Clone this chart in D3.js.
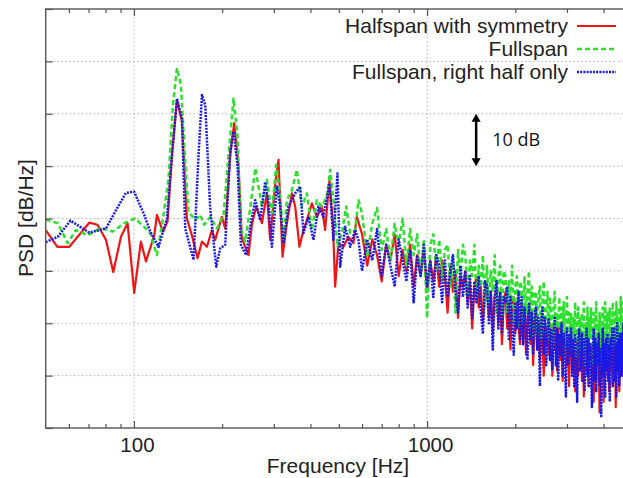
<!DOCTYPE html>
<html>
<head>
<meta charset="utf-8">
<title>PSD spectrum</title>
<script src="https://cdnjs.cloudflare.com/ajax/libs/d3/7.8.5/d3.min.js"></script>
<style>
body { margin: 0; background: #fff; }
svg { display: block; font-family: "Liberation Sans", Arial, sans-serif; }
</style>
</head>
<body>
<div id="chart"></div>
<script>

// legend / series
var seriesNames  = ["Halfspan with symmetry", "Fullspan", "Fullspan, right half only"];
var seriesColors = ["#f01414", "#2ee02e", "#1818e8"];
var seriesDash   = [null, "5,3", "2,1.2"];

// axis ticks
var xMajorTicks = [100, 1000];
var xMinorTicks = [60, 70, 80, 90, 200, 300, 400, 500, 600, 700, 800, 900, 2000, 3000, 4000];
var yTicks = [0, 10, 20, 30, 40, 50, 60, 70, 80];

// low frequency part, [Hz, dB]
var redLow = [[50,37.8],[54.8,34.6],[60.2,34.6],[70.4,39.2],[75.1,38.8],[80.3,35.9],[85,29.8],[90.3,36.5],
  [95.1,39.1],[100.2,25.8],[105.6,35.6],[109.9,31.8],[117.3,36.8],[119.8,40.7],[125.6,37.5],[130.2,39.4],
  [134.8,52.1],[140.2,62.6],[145.8,58.5],[151.6,40],[157.6,36.8],[164.8,32.4],[170.6,35.6],[177.4,34.6],
  [184.5,37.8],[189.3,35.9],[199.5,40.3],[204.8,38.1],[213,52.1],[219.8,58.2],[227.3,50.2],[233.4,36.2],
  [245.9,33],[252.5,38.8],[261.2,42.3],[273.2,39.1],[284.1,44.8],[291.5,35.9],[303.3,46.7],[311.2,51.2],
  [321.2,32.7],[332.4,39.1],[345.7,44.8],[354.8,42.3],[366.9,34.6],[378.7,37.8],[388.9,39.7],[404.5,42.9],
  [420.6,40.3],[437.5,42.3],[448.9,37.8],[464.4,47.4],[477,39.1],[485.7,27],[498.5,35.3],[518.4,34.6],
  [539.2,36.5],[560.7,35.3],[575.8,40.3]];

var greenLow = [[50,39.8],[55,39.1],[59.4,35.3],[63.4,37.8],[69.5,36.8],[77.2,38.2],[84.5,37.5],[92.7,39.1],
  [100.8,40],[108.4,38.4],[113.6,37.2],[119.8,33],[126.2,40.7],[131.2,47.7],[135.8,61.7],[140.2,68.7],
  [144.6,65.5],[149.6,50.8],[153.5,41.3],[161.8,39.7],[168.3,40.7],[173.7,38.8],[182,40.3],[191.9,38.1],
  [202.1,40.7],[210.2,52.1],[218.6,62.9],[225.5,55.9],[231.6,38.1],[239.6,35.6],[249.2,42],[259.5,49.6],
  [273.2,42.3],[284.1,47.4],[295.5,41],[305.7,50.2],[315.4,44.2],[323.7,35.9],[332.4,43.5],[345.7,45.4],
  [359.6,49.3],[374,42.3],[388.9,44.8],[404.5,37.8],[420.6,43.5],[437.5,42.3],[455,44.2],[467,49.3],
  [481.9,42.3],[494.6,34.6],[512,37.2],[529.5,42.3],[546.4,37.2],[568.2,37.8],[583.2,43.5]];

var blueLow = [[50,35.5],[55,36.5],[60.7,39.6],[70.4,37.3],[80.3,38.1],[85.7,41],[93.9,44.9],[100.2,45.1],
  [108.4,40.7],[113.6,37.5],[121.3,34.6],[129.6,40],[134.8,52.1],[140.2,62.9],[145.8,59.1],[149.6,38.1],
  [159.7,32.1],[166.1,52.1],[170.6,63.6],[175.1,61.7],[182,41.9],[190.8,30.8],[196.9,34.3],[204.8,35],
  [213,52.8],[218.6,56.6],[225.5,50.2],[231.6,35],[241.5,33],[249.2,38.4],[259.1,43.5],[269.5,39.7],
  [280.3,47],[287.7,42.9],[295.5,34.6],[307.4,46.1],[315.4,42.3],[323.7,35.3],[336.6,42.3],[354.8,44.8],
  [369,46.1],[378.7,37.2],[393.8,40.3],[409.6,35.9],[426,42.3],[443,40.3],[464.4,46.7],[479.2,35.9],
  [494.6,48.6],[505.2,30.8],[525.4,38.4],[546.4,34.6],[568.2,37.8],[583.2,35.9]];

// high frequency part: spectrum bins every 25 Hz, dB values read per bin
var hiFreq = d3.range(600, 4825, 25);

var redHigh = [37,31,36,33,28,35,32,37,29,34,
  30,35,27,33,29,34,26,32,28,33,
  27,32,29,22,31,26,30,21,29,27,
  30,24,28,19,27,29,23,27,20,26,
  28,21,26,18,25,27,20,26,16,24,
  26,19,24,15,23,25,18,24,20,16,
  24,17,22,14,21,23,16,22,12,20,
  22,15,20,13,21,17,10,20,16,19,
  14,20,16,10,19,15,18,11,17,20,
  13,18,9,17,14,19,12,16,8,17,
  18,11,16,13,7,15,17,10,16,13,
  16,9,15,6,14,17,11,15,8,16,
  13,16,10,15,5,14,17,9,15,12,
  16,3,13,17,10,15,5,14,16,11,
  15,10,17,7,14,16,11,15,8,17,
  13,17,4,15,11,16,13,7,15,18,
  14,10,17,13,18,9,15,17,12];

var greenHigh = [41,33,39,42,34,38,32,39,35,40,
  31,38,33,37,29,36,21,35,37,30,
  36,28,34,35,27,33,22,34,29,35,
  33,25,32,29,35,24,31,27,33,23,
  31,24,30,26,33,22,29,31,21,30,
  29,22,28,24,31,20,27,29,19,28,
  27,20,29,22,26,30,19,27,17,26,
  26,18,25,27,17,24,28,18,23,26,
  17,25,21,15,24,26,16,22,19,25,
  16,23,18,24,14,21,25,15,22,18,
  22,14,21,17,24,13,20,23,15,21,
  13,22,18,24,12,20,16,23,14,21,
  17,23,12,20,22,14,19,24,13,20,
  16,22,18,12,21,23,15,19,24,13,
  20,22,14,18,23,12,21,17,24,15,
  19,22,13,24,18,21,14,23,20,25,
  16,21,24,14,22,19,25,17,22];

var blueHigh = [30,36,32,38,29,35,31,27,36,32,
  28,34,24,33,29,35,27,32,25,33,
  31,24,32,25,30,33,26,22,31,25,
  30,23,29,21,28,24,29,22,18,28,
  27,20,26,15,25,28,19,26,18,25,
  24,27,17,25,20,14,24,19,26,17,
  25,16,23,19,13,24,17,22,14,21,
  23,15,21,8,20,23,14,21,12,19,
  21,13,19,11,18,21,12,19,9,18,
  14,20,10,18,13,6,19,12,18,14,
  19,10,17,8,18,13,5,16,19,11,
  12,18,9,17,7,15,19,10,17,8,
  16,11,4,15,19,9,17,7,16,12,
  18,8,15,2,13,19,10,16,6,17,
  11,18,9,16,5,17,12,19,8,15,
  19,9,16,6,20,11,17,8,18,14,
  10,18,12,20,8,16,21,11,17];

window.addEventListener("load", run);

function run () {
    var W = 623, H = 478;
    var left = 45.7, right = 632, top = 9, bottom = 428;

    var svg = d3.select("#chart").append("svg")
        .attr("width", W).attr("height", H);

    var x = d3.scaleLog().domain([50, 5000]).range([left, right]);
    var y = d3.scaleLinear().domain([0, 80]).range([bottom, top]);

    svg.append("clipPath").attr("id", "plotclip")
      .append("rect")
        .attr("x", left).attr("y", top)
        .attr("width", right - left).attr("height", bottom - top);

    // grid
    var grid = svg.append("g")
        .attr("stroke", "#b4b4b4")
        .attr("stroke-width", 1)
        .attr("stroke-dasharray", "1.5,2.5");
    grid.selectAll(".hg").data(yTicks.slice(1, -1)).enter().append("line")
        .attr("x1", left).attr("x2", right)
        .attr("y1", function(d) { return y(d); })
        .attr("y2", function(d) { return y(d); });
    grid.selectAll(".vg").data(xMajorTicks).enter().append("line")
        .attr("y1", top).attr("y2", bottom)
        .attr("x1", function(d) { return x(d); })
        .attr("x2", function(d) { return x(d); });

    // series
    function join (low, high) {
        var pts = low.slice();
        hiFreq.forEach(function(f, i) {
            if (high[i] != null) pts.push([f, high[i]]);
        });
        return pts;
    }
    var series = [join(redLow, redHigh), join(greenLow, greenHigh), join(blueLow, blueHigh)];

    var line = d3.line()
        .x(function(d) { return x(d[0]); })
        .y(function(d) { return y(d[1]); });

    var plot = svg.append("g").attr("clip-path", "url(#plotclip)");
    series.forEach(function(s, k) {
        plot.append("path")
            .datum(s)
            .attr("fill", "none")
            .attr("stroke", seriesColors[k])
            .attr("stroke-width", k == 0 ? 2.2 : 2.5)
            .attr("stroke-dasharray", seriesDash[k])
            .attr("stroke-linejoin", "round")
            .attr("d", line);
    });

    // axes (ticks point inward)
    var axisCol = "#555";
    function styleAxis (g) {
        g.select(".domain").remove();
        g.selectAll(".tick line").attr("stroke", axisCol).attr("stroke-width", 1.2);
        g.selectAll(".tick text")
            .attr("fill", "#222")
            .attr("dx", 3)
            .style("font-size", "20.5px")
            .style("font-family", "'Liberation Sans', Arial, sans-serif");
    }

    svg.append("g").attr("transform", "translate(0," + bottom + ")")
        .call(d3.axisBottom(x).tickValues(xMajorTicks).tickSize(-7).tickPadding(9)
              .tickFormat(d3.format("d")))
        .call(styleAxis);
    svg.append("g").attr("transform", "translate(0," + bottom + ")")
        .call(d3.axisBottom(x).tickValues(xMinorTicks).tickSize(-4).tickFormat(""))
        .call(styleAxis);
    svg.append("g").attr("transform", "translate(0," + top + ")")
        .call(d3.axisTop(x).tickValues(xMajorTicks).tickSize(-7).tickFormat(""))
        .call(styleAxis);
    svg.append("g").attr("transform", "translate(0," + top + ")")
        .call(d3.axisTop(x).tickValues(xMinorTicks).tickSize(-4).tickFormat(""))
        .call(styleAxis);
    svg.append("g").attr("transform", "translate(" + left + ",0)")
        .call(d3.axisLeft(y).tickValues(yTicks).tickSize(-7).tickFormat(""))
        .call(styleAxis);

    // frame
    svg.append("rect")
        .attr("x", left).attr("y", top)
        .attr("width", right - left).attr("height", bottom - top)
        .attr("fill", "none")
        .attr("stroke", axisCol)
        .attr("stroke-width", 1.4);

    // axis titles
    svg.append("text")
        .attr("x", 338).attr("y", 473)
        .attr("text-anchor", "middle")
        .attr("fill", "#222")
        .style("font-size", "21px")
        .text("Frequency [Hz]");
    svg.append("text")
        .attr("transform", "translate(33,218) rotate(-90)")
        .attr("text-anchor", "middle")
        .attr("fill", "#222")
        .style("font-size", "21px")
        .text("PSD [dB/Hz]");

    // legend
    var legend = svg.append("g");
    seriesNames.forEach(function(name, k) {
        var by = 33 + k * 23;
        legend.append("text")
            .attr("x", 568).attr("y", by)
            .attr("text-anchor", "end")
            .attr("fill", "#222")
            .style("font-size", "21px")
            .text(name);
        legend.append("line")
            .attr("x1", 577).attr("x2", 616)
            .attr("y1", by - 7).attr("y2", by - 7)
            .attr("stroke", seriesColors[k])
            .attr("stroke-width", k == 0 ? 2.2 : 2.5)
            .attr("stroke-dasharray", seriesDash[k]);
    });

    // 10 dB scale arrow
    var af = 1470, ax = x(af), a1 = y(60), a2 = y(50);
    svg.append("line")
        .attr("x1", ax).attr("x2", ax)
        .attr("y1", a1 + 6).attr("y2", a2 - 6)
        .attr("stroke", "#000").attr("stroke-width", 2.5);
    svg.append("path")
        .attr("d", "M" + ax + "," + a1 + "l-4.5,8h9z")
        .attr("fill", "#000");
    svg.append("path")
        .attr("d", "M" + ax + "," + a2 + "l-4.5,-8h9z")
        .attr("fill", "#000");
    svg.append("text")
        .attr("x", ax + 16).attr("y", (a1 + a2) / 2 + 6.5)
        .attr("fill", "#111")
        .style("font-family", "'Open Sans', sans-serif")
        .style("font-size", "18px")
        .text("10 dB");
}
</script>
</body>
</html>
